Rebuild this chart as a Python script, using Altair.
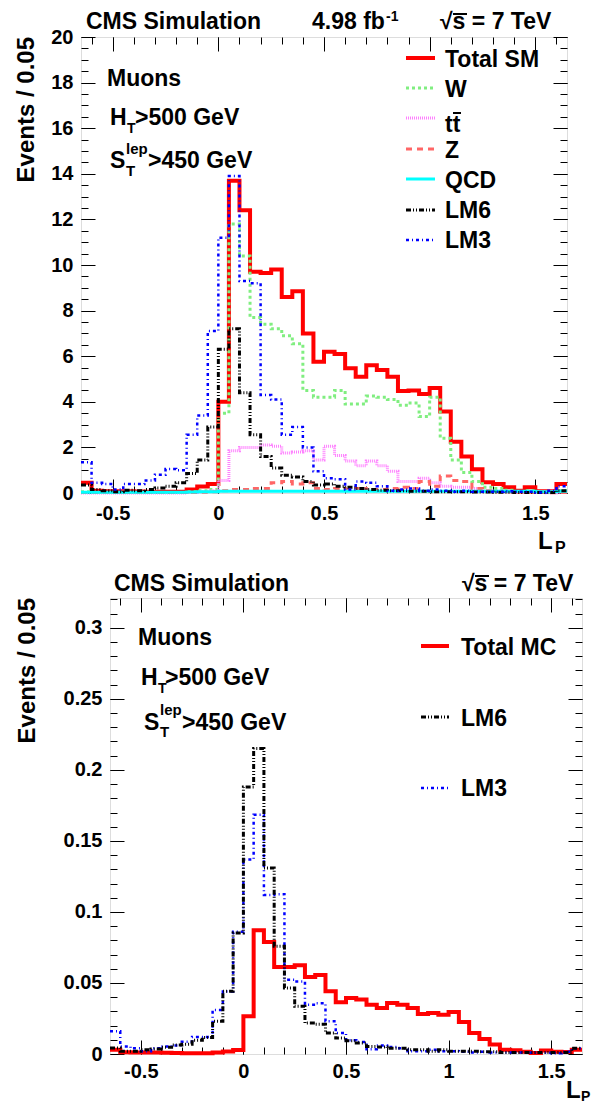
import altair as alt
import pandas as pd

FONT = "Liberation Sans"

# ---------------- binning ----------------
X_START = -0.65
BIN_W = 0.05

# ---------------- top panel: events / 0.05 (4.98 fb-1) ----------------
TOTAL_SM = [0.45, 0.10, 0.08, 0.08, 0.08, 0.07, 0.06, 0.05, 0.05, 0.05, 0.15, 0.28, 0.40,
            4.0, 13.7, 12.4, 9.7, 9.65, 9.8, 8.6, 8.85, 7.0, 5.76, 6.2, 6.1, 5.47, 5.1,
            5.6, 5.4, 5.1, 4.47, 4.5, 4.34, 4.6, 3.57, 2.25, 1.6, 1.04, 0.47, 0.4, 0.25,
            0.1, 0.25, 0.08, 0.08, 0.4]
W_BOSON = [0.05, 0.02, 0.02, 0.02, 0.02, 0.02, 0.02, 0.02, 0.02, 0.02, 0.05, 0.1, 0.15,
           3.5, 11.8, 10.4, 7.7, 7.4, 7.2, 6.9, 6.55, 4.5, 4.2, 4.2, 4.5, 3.9, 3.9,
           4.25, 4.2, 4.1, 3.85, 3.95, 3.35, 4.2, 2.4, 1.45, 0.9, 0.5, 0.25, 0.2, 0.12,
           0.05, 0.1, 0.03, 0.03, 0.1]
TTBAR = [0.0, 0.0, 0.0, 0.0, 0.0, 0.0, 0.0, 0.0, 0.0, 0.0, 0.02, 0.05, 0.1,
         0.55, 1.85, 2.0, 2.0, 2.1, 2.05, 1.75, 1.8, 1.85, 1.45, 2.05, 1.65, 1.4, 1.2,
         1.4, 1.2, 0.95, 0.5, 0.5, 0.65, 0.45, 0.3, 0.25, 0.25, 0.2, 0.1, 0.08, 0.05,
         0.03, 0.02, 0.02, 0.01, 0.02]
Z_BOSON = [0.02, 0.02, 0.02, 0.02, 0.02, 0.02, 0.02, 0.02, 0.02, 0.02, 0.02, 0.03, 0.05,
           0.1, 0.15, 0.15, 0.2, 0.2, 0.45, 0.5, 0.4, 0.45, 0.2, 0.15, 0.2, 0.15, 0.2,
           0.1, 0.15, 0.2, 0.25, 0.2, 0.5, 0.3, 0.75, 0.55, 0.5, 0.2, 0.1, 0.05, 0.05,
           0.02, 0.02, 0.02, 0.01, 0.02]
QCD = [0.03, 0.03, 0.03, 0.03, 0.03, 0.03, 0.03, 0.03, 0.03, 0.03, 0.04, 0.05, 0.06,
       0.08, 0.08, 0.08, 0.08, 0.08, 0.08, 0.08, 0.08, 0.08, 0.08, 0.08, 0.08, 0.08, 0.08,
       0.08, 0.08, 0.08, 0.08, 0.08, 0.08, 0.08, 0.08, 0.08, 0.08, 0.08, 0.08, 0.08, 0.08,
       0.08, 0.08, 0.06, 0.06, 0.08]
LM6_TOP = [0.35, 0.15, 0.1, 0.05, 0.12, 0.1, 0.15, 0.22, 0.3, 0.45, 0.85, 1.45, 2.9,
           6.3, 7.2, 4.4, 2.55, 1.6, 1.1, 0.78, 0.7, 0.5, 0.35, 0.4, 0.3, 0.25, 0.2,
           0.15, 0.12, 0.1, 0.1, 0.08, 0.08, 0.06, 0.06, 0.05, 0.05, 0.04, 0.04, 0.03, 0.03,
           0.02, 0.02, 0.02, 0.02, 0.1]
LM3_TOP = [1.35, 0.45, 0.4, 0.15, 0.4, 0.4, 0.55, 0.8, 1.05, 1.0, 2.55, 3.4, 7.1,
           11.2, 13.9, 9.3, 9.2, 4.3, 4.1, 2.55, 2.9, 2.0, 0.95, 0.65, 0.6, 0.15, 0.5,
           0.45, 0.3, 0.1, 0.15, 0.2, 0.1, 0.15, 0.1, 0.05, 0.1, 0.05, 0.05, 0.05, 0.08,
           0.05, 0.05, 0.02, 0.1, 0.3]

# ---------------- bottom panel: normalised shapes ----------------
TOTAL_MC = [0.003, 0.0012, 0.001, 0.001, 0.001, 0.0008, 0.0007, 0.0006, 0.0006, 0.0006, 0.001, 0.0018, 0.0028,
            0.0265, 0.0871, 0.0789, 0.0613, 0.0613, 0.0625, 0.0542, 0.0557, 0.0441, 0.0364, 0.0394, 0.0383, 0.0347, 0.0324,
            0.0359, 0.0347, 0.0324, 0.0282, 0.0289, 0.0277, 0.0296, 0.0225, 0.0148, 0.0106, 0.0066, 0.003, 0.0027, 0.0015,
            0.0007, 0.0025, 0.0015, 0.0014, 0.003]
LM6_NORM = [0.0042, 0.002, 0.002, 0.003, 0.0035, 0.0047, 0.0063, 0.0068, 0.0096, 0.0117, 0.023, 0.0441, 0.0852,
            0.188, 0.215, 0.131, 0.0758, 0.0465, 0.0336, 0.0218, 0.021, 0.0148, 0.0113, 0.0094, 0.0077, 0.0053, 0.005,
            0.004, 0.004, 0.003, 0.003, 0.002, 0.003, 0.002, 0.002, 0.002, 0.0015, 0.0015, 0.001, 0.001, 0.001,
            0.001, 0.001, 0.001, 0.001, 0.004]
LM3_NORM = [0.016, 0.0053, 0.004, 0.002, 0.004, 0.0053, 0.006, 0.0087, 0.012, 0.012, 0.031, 0.044, 0.086,
            0.137, 0.1685, 0.112, 0.1125, 0.0523, 0.051, 0.0347, 0.0357, 0.023, 0.0148, 0.0096, 0.0085, 0.0033, 0.006,
            0.005, 0.004, 0.002, 0.002, 0.003, 0.002, 0.002, 0.0015, 0.001, 0.0015, 0.001, 0.001, 0.001, 0.001,
            0.0008, 0.0008, 0.0005, 0.0015, 0.004]

# ---------------- ticks ----------------
X_DOMAIN = [-0.65, 1.65]
X_MAJOR = [-0.5, 0, 0.5, 1, 1.5]
X_MINOR = [round(-0.6 + 0.1 * k, 2) for k in range(23)]
Y1_DOMAIN = [0, 20]
Y1_MAJOR = list(range(0, 21, 2))
Y1_MINOR = [0.5 * k for k in range(41)]
Y2_DOMAIN = [0, 0.321]
Y2_MAJOR = [0, 0.05, 0.1, 0.15, 0.2, 0.25, 0.3]
Y2_MINOR = [round(0.01 * k, 2) for k in range(33)]

DUMMY = pd.DataFrame({"x": [0.0], "y": [0.0]})


def hist_df(vals):
    edges = [round(X_START + BIN_W * i, 4) for i in range(len(vals) + 1)]
    return pd.DataFrame({"x": edges, "y": list(vals) + [vals[-1]]})


def hist_layer(vals, xs, ys, color, width, dash=None):
    kw = dict(interpolate="step-after", color=color, strokeWidth=width)
    if dash:
        kw["strokeDash"] = dash
    return alt.Chart(hist_df(vals)).mark_line(**kw).encode(
        x=alt.X("x:Q", scale=xs, axis=None),
        y=alt.Y("y:Q", scale=ys, axis=None))


def axis_layer(xs, ys, xaxis=None, yaxis=None):
    return alt.Chart(DUMMY).mark_point(opacity=0).encode(
        x=alt.X("x:Q", scale=xs, axis=xaxis),
        y=alt.Y("y:Q", scale=ys, axis=yaxis))


def tick_axis(orient, offset, values, size):
    return alt.Axis(orient=orient, offset=offset, values=values, tickSize=size,
                    ticks=True, labels=False, domain=False, grid=False, title=None,
                    tickColor="black", tickWidth=1, minExtent=0, maxExtent=0)


def txt(s, x, y, size, angle=0, align="left", baseline="alphabetic"):
    return alt.Chart(DUMMY).mark_text(
        text=s, font=FONT, fontWeight="bold", fontSize=size, align=align, angle=angle,
        baseline=baseline, color="black").encode(x=alt.value(x), y=alt.value(y))


def seg(x1, x2, y, color, width, dash=None):
    kw = dict(color=color, strokeWidth=width)
    if dash:
        kw["strokeDash"] = dash
    return alt.Chart(DUMMY).mark_rule(**kw).encode(
        x=alt.value(x1), x2=alt.value(x2), y=alt.value(y))


def axes(W, H, xs, ys, ymajor, yminor, yfmt, big, small, xpad):
    lab_y = alt.Axis(orient="left", values=ymajor, format=yfmt, ticks=False, tickSize=0,
                     domain=False, grid=False, labelFont=FONT, labelFontWeight="bold",
                     labelFontSize=20, labelPadding=8, labelColor="black", title=None)
    lab_x = alt.Axis(orient="bottom", values=X_MAJOR, format=".1~f", ticks=False, tickSize=0,
                     labelExpr="replace(datum.label, '\u2212', '-')",
                     domain=False, grid=False, labelFont=FONT, labelFontWeight="bold",
                     labelFontSize=20, labelPadding=xpad, labelColor="black",
                     labelOverlap=False, title=None)
    return [
        axis_layer(xs, ys, yaxis=lab_y),
        axis_layer(xs, ys, xaxis=lab_x),
        axis_layer(xs, ys, yaxis=tick_axis("right", -W, ymajor, big)),
        axis_layer(xs, ys, yaxis=tick_axis("right", -W, yminor, small)),
        axis_layer(xs, ys, yaxis=tick_axis("left", -W, ymajor, big)),
        axis_layer(xs, ys, yaxis=tick_axis("left", -W, yminor, small)),
        axis_layer(xs, ys, xaxis=tick_axis("top", -H, X_MAJOR, big)),
        axis_layer(xs, ys, xaxis=tick_axis("top", -H, X_MINOR, small)),
        axis_layer(xs, ys, xaxis=tick_axis("bottom", -H, X_MAJOR, big)),
        axis_layer(xs, ys, xaxis=tick_axis("bottom", -H, X_MINOR, small)),
    ]


RED = "#ff0000"
GREEN = "#80ee80"
PINK = "#ff80ff"
SALMON = "#ff6666"
CYAN = "#00ffff"
BLACK = "#000000"
BLUE = "#0000ff"
DASH_W = [3, 3]
DASH_TT = [1, 1]
DASH_Z = [6, 5]
DASH_LM6 = [5, 2, 1, 2, 1, 2]
DASH_LM3 = [3, 3, 1, 3]
FS = 23

# ================= TOP PANEL =================
W1, H1 = 486, 456
xs1 = alt.Scale(domain=X_DOMAIN, nice=False, zero=False)
ys1 = alt.Scale(domain=Y1_DOMAIN, nice=False, zero=False)

top_layers = axes(W1, H1, xs1, ys1, Y1_MAJOR, Y1_MINOR, "d", 14, 7, 10)
top_layers += [
    hist_layer(TOTAL_SM, xs1, ys1, RED, 4),
    hist_layer(W_BOSON, xs1, ys1, GREEN, 3, DASH_W),
    hist_layer(TTBAR, xs1, ys1, PINK, 3, DASH_TT),
    hist_layer(Z_BOSON, xs1, ys1, SALMON, 3, DASH_Z),
    hist_layer(QCD, xs1, ys1, CYAN, 3),
    hist_layer(LM6_TOP, xs1, ys1, BLACK, 3, DASH_LM6),
    hist_layer(LM3_TOP, xs1, ys1, BLUE, 2.5, DASH_LM3),
]
top_layers += [
    txt("Events / 0.05", -66, 0, 24, angle=270, align="right", baseline="top"),
    txt("CMS Simulation", 5, -8, 23),
    txt("4.98 fb", 231, -8, 23),
    txt("-1", 305, -16, 14),
    txt("\u221as = 7 TeV", 359, -8, 23),
    seg(372, 386, -23, BLACK, 2),
    txt("Muons", 26, 49, FS),
    txt("H", 29, 88, FS), txt("T", 46, 96, 14), txt(">500 GeV", 54, 88, FS),
    txt("S", 29, 131, FS), txt("lep", 45, 117, 15), txt("T", 45, 139, 15),
    txt(">450 GeV", 67, 131, FS),
    txt("L", 457, 512, 24), txt("P", 474, 516, 16),
]
LEG1 = [("Total SM", RED, 4, None, 21, 29.7),
        ("W", GREEN, 3, DASH_W, 51, 59.7),
        ("tt", PINK, 3, DASH_TT, 81, 94.7),
        ("Z", SALMON, 3, DASH_Z, 112, 121.3),
        ("QCD", CYAN, 3, None, 142, 151),
        ("LM6", BLACK, 3, DASH_LM6, 173, 181.3),
        ("LM3", BLUE, 2.5, DASH_LM3, 203, 211.3)]
for name, col, wd, dash, ly, ty in LEG1:
    top_layers.append(seg(325, 354, ly, col, wd, dash))
    top_layers.append(txt(name, 364, ty, FS))
top_layers.append(seg(372, 380, 76, BLACK, 2))

top = alt.layer(*top_layers).resolve_axis(x="independent", y="independent").properties(
    width=W1, height=H1)

# ================= BOTTOM PANEL =================
W2, H2 = 472, 456
xs2 = alt.Scale(domain=X_DOMAIN, nice=False, zero=False)
ys2 = alt.Scale(domain=Y2_DOMAIN, nice=False, zero=False)

bot_layers = axes(W2, H2, xs2, ys2, Y2_MAJOR, Y2_MINOR, ".2~f", 14, 7, 7)
bot_layers += [
    hist_layer(TOTAL_MC, xs2, ys2, RED, 4),
    hist_layer(LM3_NORM, xs2, ys2, BLUE, 2.5, DASH_LM3),
    hist_layer(LM6_NORM, xs2, ys2, BLACK, 3, DASH_LM6),
]
bot_layers += [
    txt("Events / 0.05", -94, 0, 24, angle=270, align="right", baseline="top"),
    txt("CMS Simulation", 4, -7, 23),
    txt("\u221as = 7 TeV", 352, -7, 23),
    seg(365, 379, -22, BLACK, 2),
    txt("Muons", 28, 47, FS),
    txt("H", 31, 87, FS), txt("T", 48, 95, 14), txt(">500 GeV", 55, 87, FS),
    txt("S", 34, 132, FS), txt("lep", 50, 117, 15), txt("T", 50, 139, 15),
    txt(">450 GeV", 72, 132, FS),
    txt("L", 456, 500, 24), txt("P", 471, 503, 14),
]
LEG2 = [("Total MC", RED, 4, None, 48, 57),
        ("LM6", BLACK, 3, DASH_LM6, 119, 128),
        ("LM3", BLUE, 2.5, DASH_LM3, 190, 198)]
for name, col, wd, dash, ly, ty in LEG2:
    bot_layers.append(seg(311, 339, ly, col, wd, dash))
    bot_layers.append(txt(name, 351, ty, FS))

bottom = alt.layer(*bot_layers).resolve_axis(x="independent", y="independent").properties(
    width=W2, height=H2)

spacer = alt.Chart(DUMMY).mark_point(opacity=0).encode(
    x=alt.X("x:Q", axis=None), y=alt.Y("y:Q", axis=None)
).properties(width=1, height=1, view=alt.ViewBackground(stroke="transparent"))

bottom_row = alt.hconcat(spacer, bottom, spacing=28, bounds="flush")

chart = alt.vconcat(top, bottom_row, spacing=15).properties(
    padding={"left": 6, "top": 1, "right": 0, "bottom": 0}
).configure_view(stroke="black", strokeWidth=2).configure(font=FONT)

chart.save("out.html", embed_options={"renderer": "svg", "actions": False})
